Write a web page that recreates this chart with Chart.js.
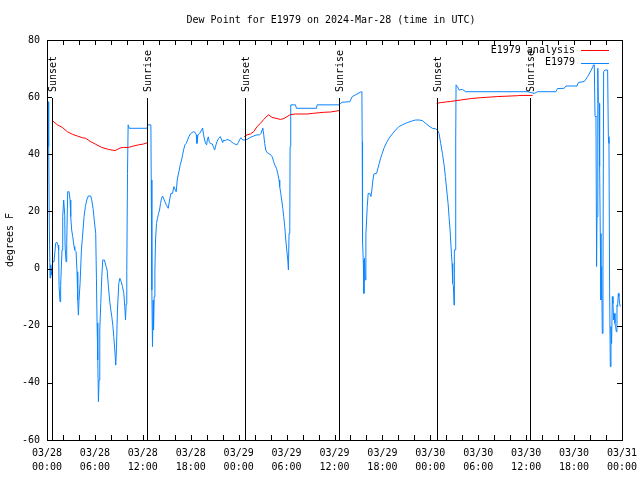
<!DOCTYPE html>
<html>
<head>
<meta charset="utf-8">
<script src="https://cdn.jsdelivr.net/npm/chart.js@4/dist/chart.umd.min.js"></script>
<style>
  html, body { margin: 0; padding: 0; background: #ffffff; }
  #wrap { width: 640px; height: 480px; }
</style>
</head>
<body>
<div id="wrap"><canvas id="c" width="640" height="480"></canvas></div>
<script>
// ---------- DATA ----------
const titleText = 'Dew Point for E1979 on 2024-Mar-28 (time in UTC)';
const yAxisTitle = 'degrees F';

// x tick labels, every 6 hours from 03/28 00:00 UTC
const xTickLabels = [
  ['03/28', '00:00'], ['03/28', '06:00'], ['03/28', '12:00'], ['03/28', '18:00'],
  ['03/29', '00:00'], ['03/29', '06:00'], ['03/29', '12:00'], ['03/29', '18:00'],
  ['03/30', '00:00'], ['03/30', '06:00'], ['03/30', '12:00'], ['03/30', '18:00'],
  ['03/31', '00:00']
];

// sunrise / sunset (hours since 03/28 00:00 UTC)
const sunEventHours = [0.67, 12.48, 24.75, 36.56, 48.86, 60.5];
const sunEventLabels = ['Sunset', 'Sunrise', 'Sunset', 'Sunrise', 'Sunset', 'Sunrise'];

// E1979 observations
const obsHours = [
  0.13, 0.21, 0.29, 0.38, 0.46, 0.54, 0.71, 0.88, 1.09, 1.21, 1.38, 1.46, 1.51, 1.63, 1.71, 1.88,
  1.97, 2.09, 2.22, 2.26, 2.38, 2.47, 2.59, 2.76, 2.89, 2.97, 3.09, 3.22, 3.39, 3.47, 3.64, 3.76,
  3.85, 3.93, 4.01, 4.14, 4.31, 4.43, 4.64, 4.81, 4.98, 5.18, 5.48, 5.6, 5.77, 5.94, 6.1, 6.19,
  6.27, 6.36, 6.44, 6.52, 6.61, 6.73, 6.86, 6.98, 7.19, 7.4, 7.53, 7.69, 7.86, 7.99, 8.11, 8.24,
  8.36, 8.49, 8.61, 8.7, 8.82, 8.99, 9.12, 9.28, 9.45, 9.62, 9.74, 9.83, 9.91, 9.99, 10.08, 10.16,
  10.29, 12.51, 12.63, 13.01, 13.05, 13.13, 13.21, 13.3, 13.34, 13.42, 13.51, 13.59, 13.71, 13.84, 13.97, 14.09,
  14.22, 14.34, 14.47, 14.68, 14.93, 15.18, 15.35, 15.51, 15.72, 15.89, 16.06, 16.18, 16.31, 16.43, 16.56, 16.68,
  16.85, 16.98, 17.1, 17.27, 17.44, 17.6, 17.77, 17.94, 18.15, 18.36, 18.57, 18.69, 18.77, 18.9, 19.11, 19.36,
  19.48, 19.61, 19.74, 19.86, 19.99, 20.07, 20.2, 20.32, 20.45, 20.7, 20.82, 20.99, 21.16, 21.28, 21.49, 21.7,
  21.87, 21.99, 22.12, 22.33, 22.54, 22.75, 22.96, 23.16, 23.37, 23.58, 23.79, 23.96, 24.13, 24.29, 24.5, 24.75,
  25.05, 25.46, 25.88, 26.3, 26.63, 26.8, 26.93, 27.01, 27.14, 27.26, 27.39, 27.56, 27.89, 28.18, 28.39, 28.52,
  28.73, 28.89, 29.06, 29.14, 29.27, 29.39, 29.52, 29.64, 29.77, 29.9, 30.02, 30.15, 30.23, 30.31, 30.4, 30.44,
  30.52, 31.11, 31.23, 33.74, 33.83, 36.59, 36.75, 36.96, 37.92, 38.22, 38.63, 39.26, 39.43, 39.47, 39.51, 39.6,
  39.68, 39.76, 39.85, 39.93, 40.1, 40.22, 40.43, 40.56, 40.68, 40.81, 40.93, 41.27, 41.44, 41.6, 41.77, 41.98,
  42.19, 42.52, 42.82, 43.23, 43.65, 44.07, 44.49, 45.12, 45.74, 46.16, 46.58, 47.0, 47.42, 47.83, 48.25, 48.67,
  48.88, 49.09, 49.3, 49.51, 49.72, 49.88, 50.05, 50.22, 50.34, 50.47, 50.59, 50.72, 50.8, 50.89, 50.97, 51.01,
  51.1, 51.18, 51.22, 51.39, 51.6, 52.01, 52.43, 60.17, 60.59, 61.01, 61.42, 63.72, 63.93, 64.77, 64.98, 66.36,
  66.53, 67.29, 67.7, 68.12, 68.45, 68.53, 68.62, 68.74, 68.82, 68.87, 68.95, 68.99, 69.03, 69.12, 69.2, 69.28,
  69.37, 69.45, 69.53, 69.62, 69.7, 69.87, 70.12, 70.2, 70.29, 70.37, 70.45, 70.54, 70.62, 70.7, 70.79, 70.87,
  70.95, 71.04, 71.12, 71.2, 71.29, 71.37, 71.45, 71.54, 71.62, 71.7, 71.79
];
const obsValues = [
  58.4, 42.7, 15.2, -3.3, 1.3, -2.3, 2.4, 2.4, 8.9, 9.3, 8.2, 6.5, -6.3, -11.6, -5.8, 6.5,
  18.2, 24.0, 18.8, 8.2, 2.4, 8.9, 26.9, 26.9, 24.0, 18.2, 13.5, 11.2, 7.7, 6.5, 5.9, -1.1,
  -11.0, -16.3, -11.0, -5.2, 6.5, 10.6, 18.2, 21.7, 24.0, 25.4, 25.4, 24.0, 21.0, 16.3, 12.3, -3.4,
  -19.0, -32.0, -46.6, -39.0, -21.5, -12.2, -2.8, 3.0, 3.0, 0.7, -0.5, -6.3, -11.6, -14.5, -16.8, -19.8,
  -23.8, -28.5, -33.8, -28.0, -14.5, -5.2, -3.4, -4.5, -6.3, -8.7, -13.3, -18.0, -12.5, -1.1, 33.3, 50.3,
  49.1, 49.1, 50.3, 50.3, 31.0, -7.5, -27.3, -11.0, -21.5, -9.8, -0.5, 10.0, 15.8, 17.6, 19.3, 20.5,
  22.8, 24.6, 25.4, 24.0, 22.3, 21.1, 24.0, 26.3, 26.3, 28.7, 27.5, 26.9, 31.0, 32.8, 34.5, 36.3,
  38.0, 39.8, 41.5, 43.3, 43.8, 45.0, 46.2, 47.1, 47.6, 47.9, 47.6, 46.8, 43.8, 46.8, 47.3, 48.5,
  49.2, 46.8, 45.0, 43.8, 43.3, 45.0, 46.1, 44.4, 43.8, 43.6, 42.7, 41.5, 43.3, 44.4, 45.6, 46.2,
  45.0, 44.1, 45.0, 44.7, 45.2, 45.0, 44.7, 44.2, 43.8, 43.5, 43.3, 44.1, 45.2, 45.8, 45.0, 45.0,
  45.2, 45.9, 46.4, 46.8, 46.8, 47.3, 48.5, 49.2, 46.8, 43.8, 41.5, 40.6, 40.1, 39.2, 37.4, 36.3,
  35.1, 33.3, 31.0, 28.7, 26.3, 24.0, 21.1, 18.2, 14.7, 10.0, 6.5, 3.0, -0.5, 12.3, 14.7, 42.7,
  57.3, 57.3, 56.1, 56.1, 57.3, 57.3, 57.8, 58.2, 58.4, 60.2, 60.8, 61.8, 61.9, 44.4, 9.4, 3.0,
  -8.7, 3.6, -4.0, 11.8, 21.7, 26.3, 26.3, 25.2, 27.5, 31.0, 33.1, 33.3, 35.1, 36.8, 38.6, 40.3,
  42.1, 44.1, 45.6, 47.1, 48.5, 49.7, 50.3, 51.1, 51.7, 52.0, 52.0, 51.8, 50.8, 49.9, 49.1, 48.9,
  48.5, 47.3, 43.8, 40.3, 36.3, 32.2, 27.5, 22.8, 18.2, 13.5, 7.7, 1.8, -5.2, -6.0, -12.8, 6.5,
  6.5, 45.0, 64.3, 63.7, 62.5, 62.7, 61.9, 61.9, 61.6, 61.3, 61.9, 61.9, 63.0, 63.1, 63.9, 63.9,
  65.1, 65.5, 67.2, 69.3, 71.3, 71.3, 53.4, 53.0, 0.7, 18.2, 18.2, 70.1, 58.4, 57.8, 35.7, 12.3,
  -11.0, 0.7, -22.7, -0.5, 68.9, 69.5, 69.5, 69.5, 46.2, 43.8, -8.1, -34.3, -20.3, -26.2, -9.8, -12.2,
  -18.0, -15.7, -19.2, -20.3, -22.1, -12.8, -13.3, -8.7, -9.8, -12.2, -13.3
];

// E1979 analysis (night-time only; null separates the segments)
const analysisHours = [
  0.67, 1.3, 1.92, 2.55, 3.18, 3.8, 4.43, 4.85, 5.48, 6.1, 6.65, 6.86, 7.69, 8.53, 9.16, 9.57,
  10.2, 10.83, 11.46, 12.08, 12.63,
  18.0,
  24.71, 25.05, 25.46, 25.88, 26.3, 26.72, 27.14, 27.56, 27.76, 28.18, 28.81, 29.23, 29.65, 30.06,
  30.48, 31.11, 32.57, 33.2, 34.66, 35.5, 36.59,
  42.0,
  48.8, 49.3, 50.55, 51.8, 53.06, 54.31, 56.4, 58.91, 59.12, 60.8
];
const analysisValues = [
  51.8, 50.3, 49.4, 47.9, 47.0, 46.4, 45.8, 45.6, 44.4, 43.5, 42.7, 42.4, 41.7, 41.3, 42.2, 42.4,
  42.4, 42.9, 43.3, 43.6, 44.1,
  null,
  46.2, 46.8, 47.1, 47.9, 49.7, 50.8, 52.2, 53.4, 53.8, 52.9, 52.5, 52.2, 52.5, 53.2,
  53.9, 54.1, 54.1, 54.3, 54.7, 54.8, 55.3,
  null,
  57.8, 58.1, 58.5, 59.0, 59.5, 59.8, 60.2, 60.5, 60.6, 60.6
];

const seriesNames = ['E1979 analysis', 'E1979'];
const seriesColors = ['#ff0000', '#0a84ff'];

// ---------- CHART ----------
const FONT = "'DejaVu Sans Mono', 'Liberation Mono', monospace";
Chart.defaults.font.family = FONT;
Chart.defaults.font.size = 10;
Chart.defaults.color = '#000000';

const toPoints = (xs, ys) => xs.map((x, i) => ({ x: x, y: ys[i] }));

const framePlugin = {
  id: 'frame',
  afterDatasetsDraw(chart) {
    const ctx = chart.ctx;
    const a = chart.chartArea;
    const xs = chart.scales.x, ys = chart.scales.y;
    ctx.save();
    ctx.strokeStyle = '#000000';
    ctx.lineWidth = 1;
    // sunrise / sunset lines and labels
    ctx.font = '10px ' + FONT;
    ctx.fillStyle = '#000000';
    sunEventHours.forEach((h, i) => {
      const px = Math.round(xs.getPixelForValue(h)) + 0.5;
      ctx.beginPath();
      ctx.moveTo(px, a.top + 58);
      ctx.lineTo(px, a.bottom);
      ctx.stroke();
      ctx.save();
      ctx.translate(px + 1, a.top + 52);
      ctx.rotate(-Math.PI / 2);
      ctx.textAlign = 'left';
      ctx.textBaseline = 'middle';
      ctx.fillText(sunEventLabels[i], 0, 0);
      ctx.restore();
    });
    // border
    ctx.strokeRect(Math.round(a.left) + 0.5, Math.round(a.top) + 0.5,
                   Math.round(a.right - a.left), Math.round(a.bottom - a.top));
    // inward ticks on all four sides
    ctx.beginPath();
    xs.ticks.forEach(t => {
      const px = Math.round(xs.getPixelForValue(t.value)) + 0.5;
      ctx.moveTo(px, a.bottom); ctx.lineTo(px, a.bottom - 5);
      ctx.moveTo(px, a.top); ctx.lineTo(px, a.top + 5);
    });
    ys.ticks.forEach(t => {
      const py = Math.round(ys.getPixelForValue(t.value)) + 0.5;
      ctx.moveTo(a.left, py); ctx.lineTo(a.left + 5, py);
      ctx.moveTo(a.right, py); ctx.lineTo(a.right - 5, py);
    });
    ctx.stroke();
    // legend (inside, top right)
    ctx.font = '10px ' + FONT;
    ctx.textAlign = 'right';
    ctx.textBaseline = 'middle';
    chart.data.datasets.forEach((ds, i) => {
      const y = a.top + 10 + i * 12.5;
      ctx.fillStyle = '#000000';
      ctx.fillText(ds.label, a.right - 47, y);
      ctx.strokeStyle = ds.borderColor;
      ctx.beginPath();
      ctx.moveTo(a.right - 41, Math.round(y) + 0.5);
      ctx.lineTo(a.right - 13, Math.round(y) + 0.5);
      ctx.stroke();
    });
    // title
    ctx.fillStyle = '#000000';
    ctx.textAlign = 'center';
    ctx.fillText(titleText, 331, 20);
    ctx.restore();
  }
};

new Chart(document.getElementById('c'), {
  type: 'line',
  data: {
    datasets: [
      {
        label: seriesNames[0],
        data: toPoints(analysisHours, analysisValues),
        borderColor: seriesColors[0],
        borderWidth: 1,
        pointRadius: 0,
        tension: 0,
        spanGaps: false,
        fill: false
      },
      {
        label: seriesNames[1],
        data: toPoints(obsHours, obsValues),
        borderColor: seriesColors[1],
        borderWidth: 1,
        pointRadius: 0,
        tension: 0,
        fill: false
      }
    ]
  },
  options: {
    responsive: false,
    animation: false,
    devicePixelRatio: 1,
    layout: { padding: { left: 0, right: 18, top: 40, bottom: 0 } },
    plugins: {
      legend: { display: false },
      title: { display: false },
      tooltip: { enabled: false }
    },
    scales: {
      x: {
        type: 'linear',
        min: 0,
        max: 72,
        grid: { display: true, drawOnChartArea: false, drawTicks: false },
        border: { display: false },
        afterFit: s => { s.height = 40; s.paddingLeft = 0; s.paddingRight = 0; },
        ticks: {
          stepSize: 2,
          autoSkip: false,
          maxRotation: 0,
          minRotation: 0,
          padding: 6,
          font: { size: 10, lineHeight: 1.4 },
          callback: v => (v % 6 === 0 ? xTickLabels[v / 6] : '')
        }
      },
      y: {
        min: -60,
        max: 80,
        grid: { display: true, drawOnChartArea: false, drawTicks: false },
        border: { display: false },
        afterFit: s => { s.width = 47; },
        title: { display: true, text: yAxisTitle, padding: { top: 4, bottom: 0 }, font: { size: 10 } },
        ticks: { stepSize: 20, padding: 7, font: { size: 10 } }
      }
    }
  },
  plugins: [framePlugin]
});
</script>
</body>
</html>
